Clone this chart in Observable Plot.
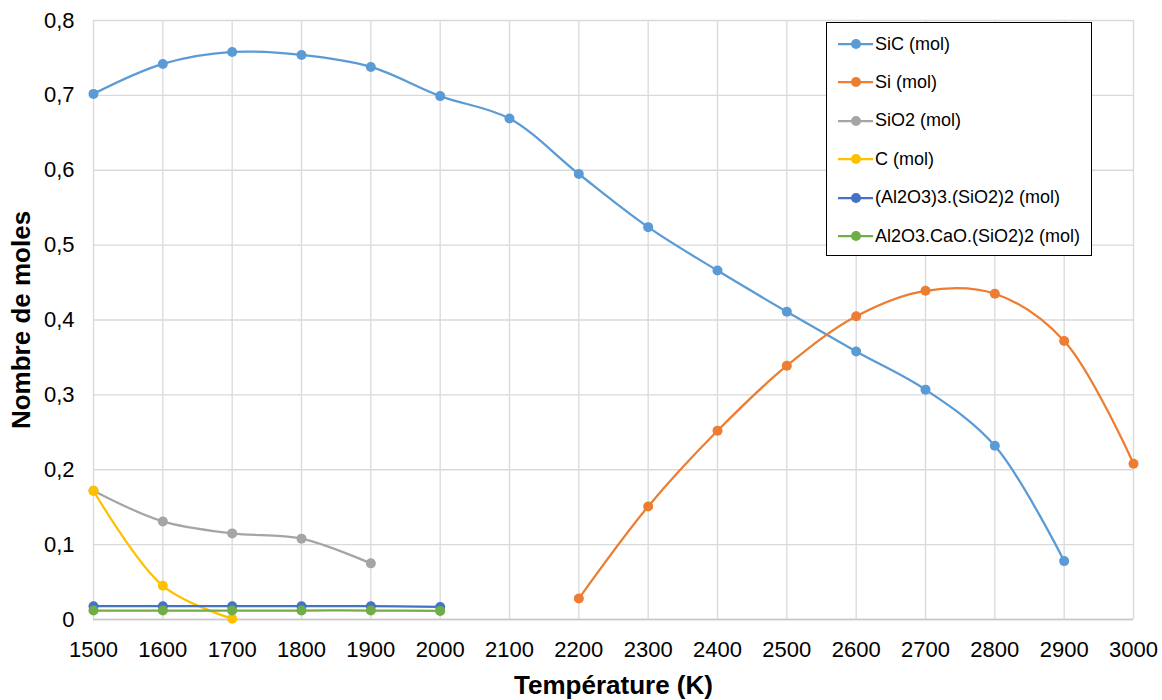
<!DOCTYPE html>
<html>
<head>
<meta charset="utf-8">
<script src="https://cdn.jsdelivr.net/npm/d3@7"></script>
<script src="https://cdn.jsdelivr.net/npm/@observablehq/plot@0.6"></script>
<style>
  html, body { margin: 0; padding: 0; background: #fff; }
  #wrap { position: relative; width: 1162px; height: 700px; font-family: "Liberation Sans", Arial, sans-serif; }
  #legend { position: absolute; left: 826px; top: 22px; width: 266px; height: 234px; border: 1.3px solid #000; background: #fff; box-sizing: border-box; }
  .lg { position: absolute; left: 11px; height: 20px; display: flex; align-items: center; font-size: 18px; color: #000; white-space: nowrap; }
  .lg svg { margin-right: 2px; }
</style>
</head>
<body>
<div id="wrap"></div>
<script>
// ---- data ----
const temps = [1500, 1600, 1700, 1800, 1900, 2000, 2100, 2200, 2300, 2400, 2500, 2600, 2700, 2800, 2900, 3000];
const xTicks = temps;
const yTicks = [0, 0.1, 0.2, 0.3, 0.4, 0.5, 0.6, 0.7, 0.8];

const seriesNames = ["SiC (mol)", "Si (mol)", "SiO2 (mol)", "C (mol)", "(Al2O3)3.(SiO2)2 (mol)", "Al2O3.CaO.(SiO2)2 (mol)"];
const seriesColors = ["#5B9BD5", "#ED7D31", "#A5A5A5", "#FFC000", "#4472C4", "#70AD47"];

const sicT = [1500, 1600, 1700, 1800, 1900, 2000, 2100, 2200, 2300, 2400, 2500, 2600, 2700, 2800, 2900];
const sicV = [0.702, 0.742, 0.758, 0.754, 0.738, 0.699, 0.669, 0.595, 0.524, 0.466, 0.411, 0.358, 0.307, 0.232, 0.078];

const siT = [2200, 2300, 2400, 2500, 2600, 2700, 2800, 2900, 3000];
const siV = [0.028, 0.151, 0.252, 0.339, 0.405, 0.439, 0.435, 0.372, 0.208];

const sio2T = [1500, 1600, 1700, 1800, 1900];
const sio2V = [0.172, 0.131, 0.115, 0.108, 0.075];

const cT = [1500, 1600, 1700];
const cV = [0.172, 0.045, 0.001];

const al3T = [1500, 1600, 1700, 1800, 1900, 2000];
const al3V = [0.0178, 0.0178, 0.0178, 0.0178, 0.0178, 0.0168];

const alcaT = [1500, 1600, 1700, 1800, 1900, 2000];
const alcaV = [0.012, 0.012, 0.012, 0.012, 0.012, 0.0115];

const seriesT = [sicT, siT, sio2T, cT, al3T, alcaT];
const seriesV = [sicV, siV, sio2V, cV, al3V, alcaV];

// ---- build table ----
const rows = [];
seriesNames.forEach((name, i) => {
  seriesT[i].forEach((t, j) => rows.push({series: name, order: i, t, v: seriesV[i][j]}));
});

const fmt = d => String(d).replace(".", ",");

const marks = [];
seriesNames.forEach((name, i) => {
  const data = rows.filter(r => r.series === name);
  marks.push(Plot.line(data, {x: "t", y: "v", stroke: seriesColors[i], strokeWidth: 2.25, curve: "catmull-rom"}));
  marks.push(Plot.dot(data, {x: "t", y: "v", fill: seriesColors[i], r: 5, stroke: "none"}));
});

const chart = Plot.plot({
  width: 1162,
  height: 700,
  marginLeft: 93,
  marginRight: 29,
  marginTop: 20,
  marginBottom: 81,
  style: {fontFamily: "'Liberation Sans', Arial, sans-serif", background: "#fff", color: "#000"},
  x: {domain: [1500, 3000], ticks: xTicks, tickFormat: d => String(d), tickSize: 0, tickPadding: 22,
      label: "Température (K)", labelAnchor: "center", labelOffset: 74, labelArrow: "none"},
  y: {domain: [0, 0.8], ticks: yTicks, tickFormat: fmt, tickSize: 0, tickPadding: 19,
      label: "Nombre de moles", labelAnchor: "center", labelOffset: 82, labelArrow: "none"},
  marks: [
    Plot.gridX(xTicks, {stroke: "#d9d9d9", strokeOpacity: 1, strokeWidth: 1.3}),
    Plot.gridY(yTicks, {stroke: "#d9d9d9", strokeOpacity: 1, strokeWidth: 1.3}),
    Plot.ruleY([0], {stroke: "#c8c8c8", strokeWidth: 1.5}),
    ...marks
  ]
});

// style axes text
d3.select(chart).selectAll("[aria-label='x-axis tick label'] text, [aria-label='y-axis tick label'] text").style("font-size", "22px");
d3.select(chart).selectAll("[aria-label='x-axis label'] text, [aria-label='y-axis label'] text, [aria-label='x-axis label'], [aria-label='y-axis label']").style("font-size", "26px").style("font-weight", "bold");

const wrap = document.getElementById("wrap");
wrap.appendChild(chart);

// legend
const legend = document.createElement("div");
legend.id = "legend";
seriesNames.forEach((name, i) => {
  const item = document.createElement("div");
  item.className = "lg";
  item.style.top = (11 + i * 38.4) + "px";
  item.innerHTML = `<svg width="35" height="12"><line x1="0" y1="6" x2="35" y2="6" stroke="${seriesColors[i]}" stroke-width="2.25"/><circle cx="18" cy="6" r="5" fill="${seriesColors[i]}"/></svg><span>${name}</span>`;
  legend.appendChild(item);
});
wrap.appendChild(legend);
</script>
</body>
</html>
